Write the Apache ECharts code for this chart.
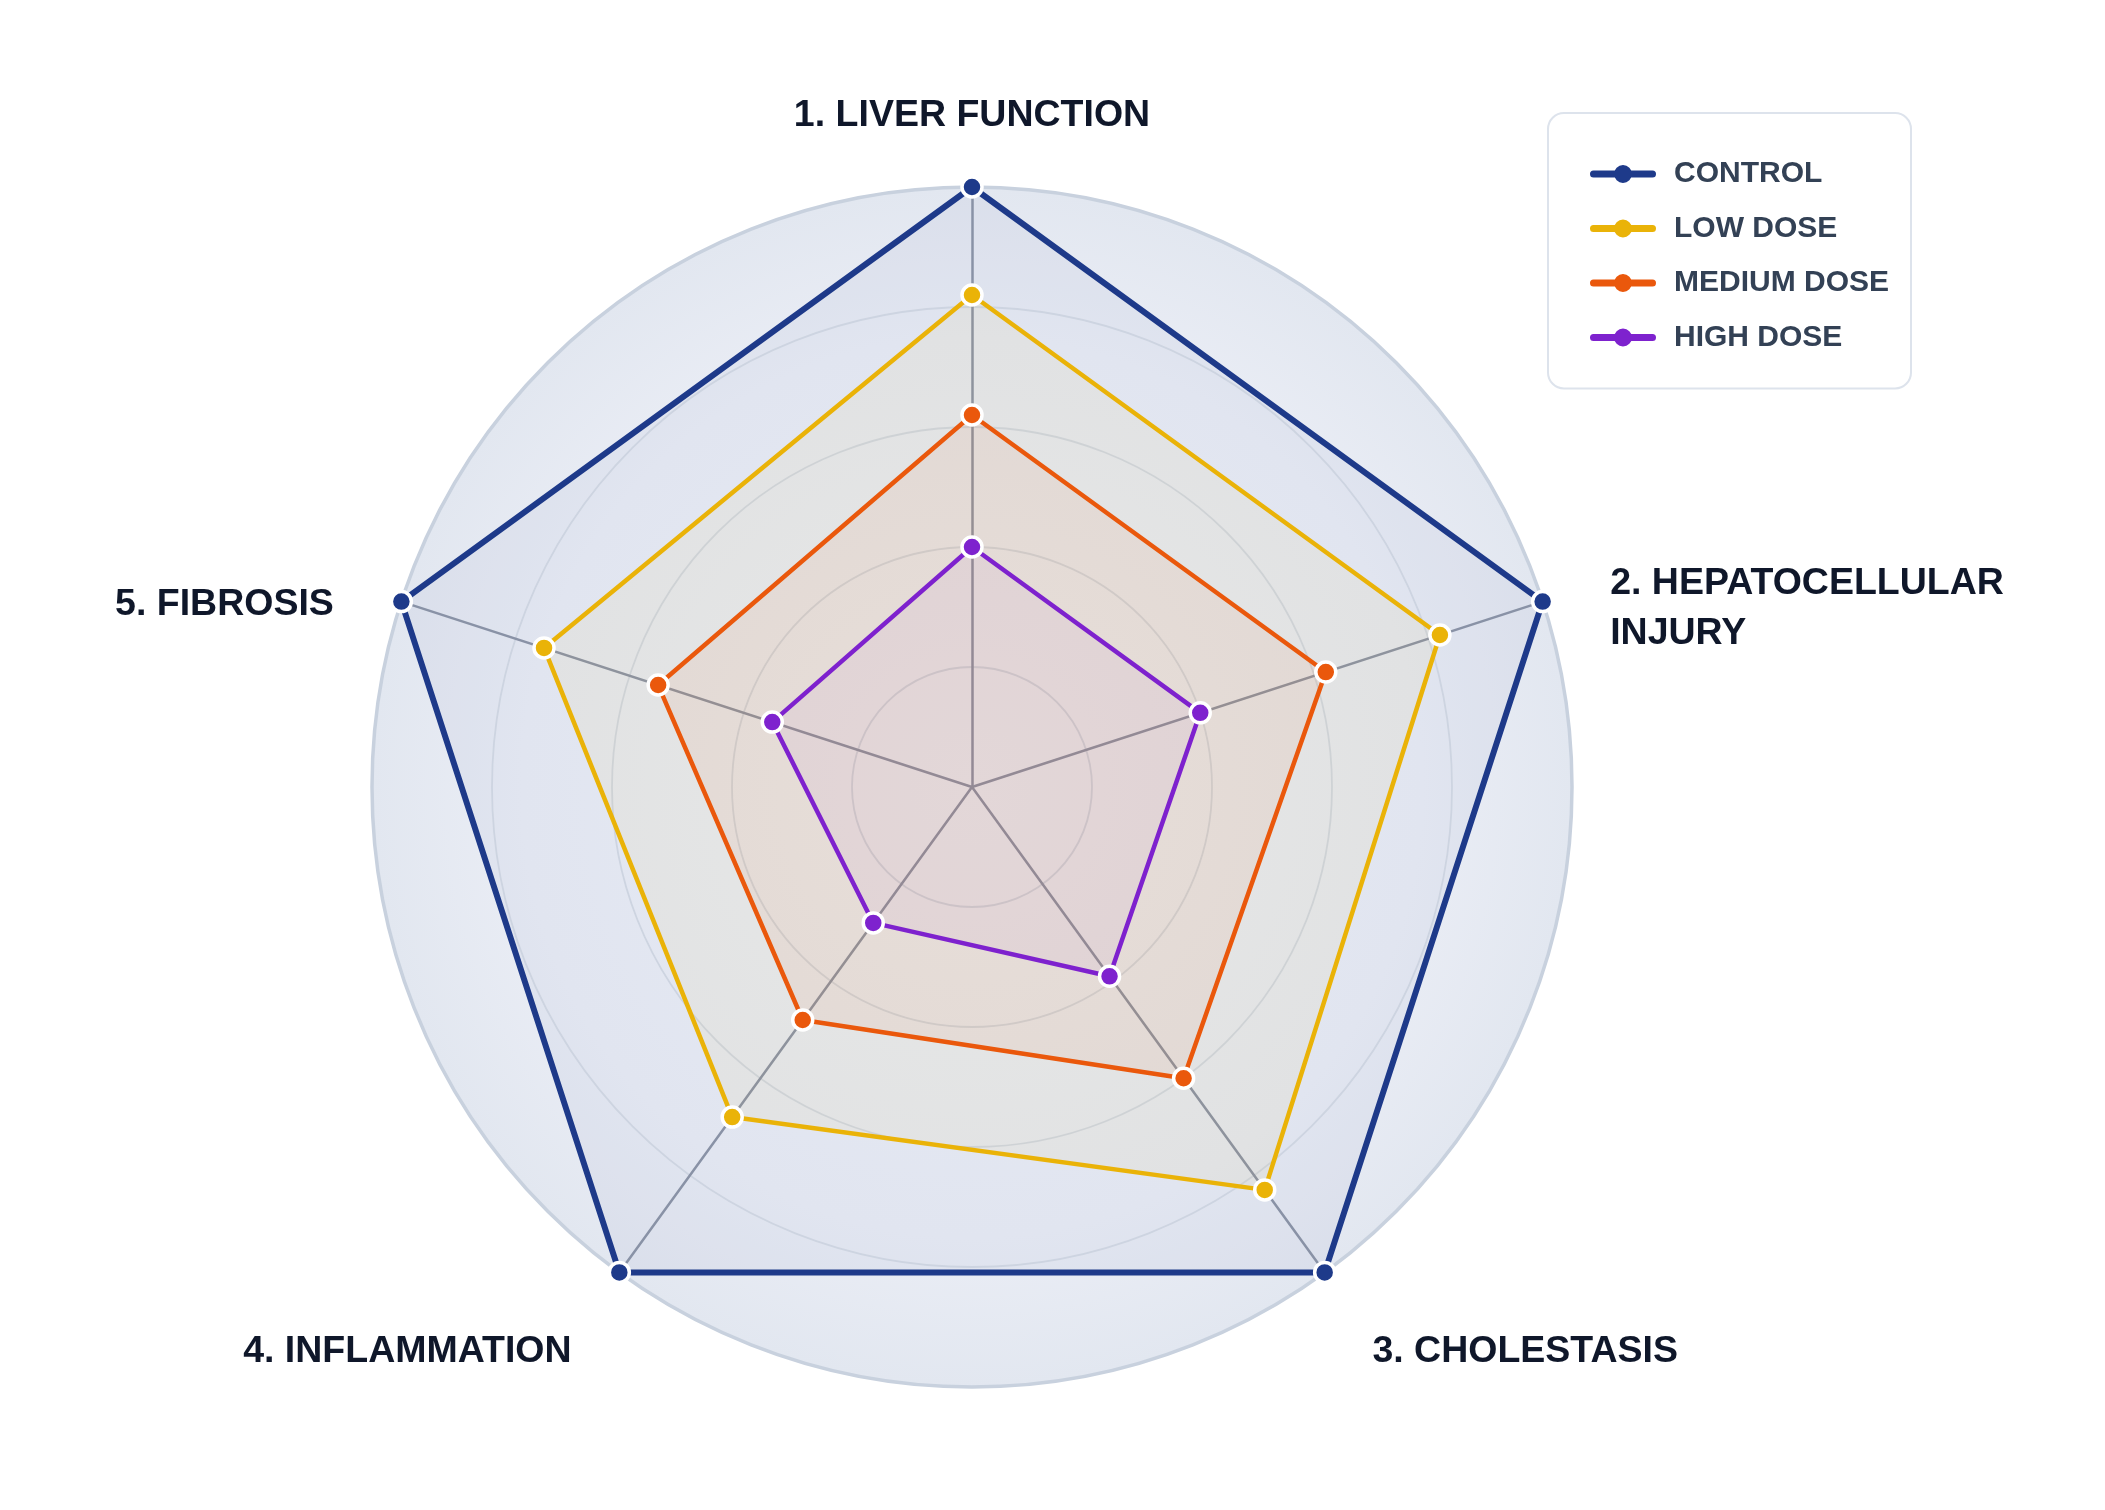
<!DOCTYPE html>
<html>
<head>
<meta charset="utf-8">
<script src="https://cdn.jsdelivr.net/npm/echarts@6/dist/echarts.min.js"></script>
<style>
html,body{margin:0;padding:0;background:#ffffff;}
#chart{width:2105px;height:1510px;}
</style>
</head>
<body>
<div id="chart"></div>
<script>
// ---- data (clockwise from top) ----
const indicators = ['1. LIVER FUNCTION', '2. HEPATOCELLULAR INJURY', '3. CHOLESTASIS', '4. INFLAMMATION', '5. FIBROSIS'];
const indicatorMax = [100, 100, 100, 100, 100];
const seriesNames = ['CONTROL', 'LOW DOSE', 'MEDIUM DOSE', 'HIGH DOSE'];
const controlValues = [100, 100, 100, 100, 100];
const lowDoseValues = [82, 82, 83, 68, 75];
const mediumDoseValues = [62, 62, 60, 48, 55];
const highDoseValues = [40, 40, 39, 28, 35];

const seriesValues = [controlValues, lowDoseValues, mediumDoseValues, highDoseValues];
const colors = ['#1e3a8a', '#eab308', '#ea580c', '#7e22ce'];
const areaOpacity = [0.04, 0.05, 0.065, 0.04];
const lineWidths = [6, 4.5, 4.5, 4.5];

// ECharts lays indicators out counter-clockwise; reorder so they read clockwise.
const order = [0, 4, 3, 2, 1];
const reorder = arr => order.map(i => arr[i]);

const FONT = '"Liberation Sans", Arial, Helvetica, sans-serif';
const CX = 972, CY = 787, R = 600;

const chart = echarts.init(document.getElementById('chart'), null, {renderer: 'canvas'});

const legendIcon = 'path://M3.5,5.5 L62.5,5.5 A3.5,3.5 0 0 1 62.5,12.5 L3.5,12.5 A3.5,3.5 0 0 1 3.5,5.5 Z M42,9 A9,9 0 1 1 24,9 A9,9 0 1 1 42,9 Z';

const nameFont = {color: '#0f172a', fontSize: 37.5, fontWeight: 'bold', fontFamily: FONT};

function nameFormatter(name) {
  const idx = indicators.indexOf(name);
  if (idx === 0) return '{t|' + name + '}';
  if (name.length > 20) {
    const cut = name.lastIndexOf(' ');
    return '{e2| }\n{n|' + name.slice(0, cut) + '}\n{n|' + name.slice(cut + 1) + '}';
  }
  if (idx === 2) return '{eb| }\n{sp| }{n|' + name + '}';
  if (idx === 3) return '{eb| }\n{n|' + name + '}{sp| }';
  return '{e| }\n{n|' + name + '}';
}

const indicatorList = reorder(indicators).map((n, k) => ({name: n, max: reorder(indicatorMax)[k], min: 0}));

const option = {
  backgroundColor: '#ffffff',
  animation: false,
  color: colors,
  legend: {
    data: seriesNames,
    orient: 'vertical',
    left: 1548,
    top: 113,
    padding: [46, 22, 36, 42],
    itemWidth: 66,
    itemHeight: 18,
    itemGap: 24.5,
    icon: legendIcon,
    backgroundColor: '#ffffff',
    borderColor: '#dde3ec',
    borderWidth: 2,
    borderRadius: 16,
    itemStyle: {borderWidth: 0},
    textStyle: {
      color: '#334155',
      fontSize: 30,
      fontWeight: 'bold',
      fontFamily: FONT,
      padding: [0, 0, 0, 13]
    }
  },
  radar: [{
    z: 1,
    center: [CX, CY],
    radius: R,
    startAngle: 90,
    shape: 'circle',
    splitNumber: 5,
    indicator: indicatorList,
    nameGap: 71,
    axisName: {
      color: '#0f172a',
      fontSize: 37.5,
      fontWeight: 'bold',
      fontFamily: FONT,
      formatter: nameFormatter,
      rich: {
        t: Object.assign({lineHeight: 1}, nameFont),
        n: Object.assign({lineHeight: 50}, nameFont),
        e: Object.assign({lineHeight: 50}, nameFont),
        eb: Object.assign({lineHeight: 44}, nameFont),
        e2: Object.assign({lineHeight: 58}, nameFont),
        sp: Object.assign({lineHeight: 50, width: 6}, nameFont)
      }
    },
    axisLine: {lineStyle: {color: '#8e96a8', width: 2.5}},
    splitLine: {lineStyle: {color: '#d5dbe5', width: 1.8}},
    splitArea: {
      show: true,
      areaStyle: {
        color: {
          type: 'radial', x: CX, y: CY, r: R, global: true,
          colorStops: [
            {offset: 0, color: '#f1f4fa'},
            {offset: 0.75, color: '#eaedf5'},
            {offset: 1, color: '#e2e7f0'}
          ]
        }
      }
    }
  }, {
    z: 1,
    center: [CX, CY],
    radius: R,
    startAngle: 90,
    shape: 'circle',
    splitNumber: 1,
    indicator: indicatorList,
    axisName: {show: false},
    axisLine: {show: false},
    axisTick: {show: false},
    axisLabel: {show: false},
    splitArea: {show: false},
    splitLine: {lineStyle: {color: '#c8d1de', width: 3.5}}
  }],
  series: seriesNames.map((name, i) => ({
    type: 'radar',
    name: name,
    radarIndex: 0,
    z: 3 + i,
    symbol: 'circle',
    symbolSize: 20,
    lineStyle: {color: colors[i], width: lineWidths[i]},
    itemStyle: {color: colors[i], borderColor: '#ffffff', borderWidth: 3.5},
    areaStyle: {color: colors[i], opacity: areaOpacity[i]},
    data: [{name: name, value: reorder(seriesValues[i])}]
  }))
};

chart.setOption(option);
</script>
</body>
</html>
